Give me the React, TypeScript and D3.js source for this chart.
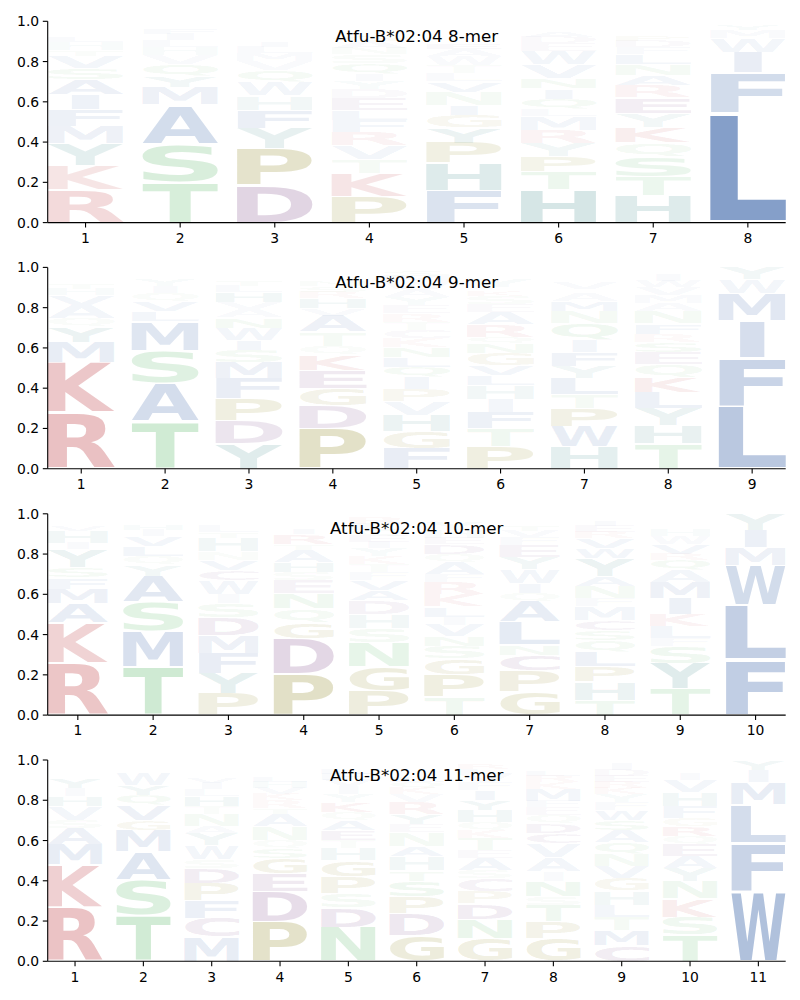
import React, { useMemo } from "react";
import * as d3 from "d3";

type Col = [string, number][];

const titles = ["Atfu-B*02:04 8-mer", "Atfu-B*02:04 9-mer", "Atfu-B*02:04 10-mer", "Atfu-B*02:04 11-mer"];

// letter probabilities per position, bottom (largest) to top
const mer8: Col[] = [
  [["R", .165], ["K", .12], ["Y", .11], ["M", .085], ["F", .08], ["I", .075], ["A", .075], ["S", .055], ["V", .06], ["T", .03], ["H", .04], ["L", .025], ["W", .02], ["N", .015], ["Q", .015], ["E", .01], ["D", .01], ["G", .005], ["P", .005]],
  [["T", .2], ["S", .19], ["A", .195], ["M", .085], ["Y", .055], ["Q", .06], ["V", .045], ["H", .04], ["L", .035], ["I", .03], ["F", .025], ["N", .02], ["K", .015], ["E", .005]],
  [["D", .185], ["P", .185], ["Y", .10], ["F", .09], ["H", .07], ["W", .07], ["Q", .055], ["V", .045], ["M", .04], ["L", .03], ["I", .025], ["A", .02], ["S", .02], ["T", .015], ["N", .015], ["E", .01], ["G", .01], ["K", .01], ["R", .005]],
  [["P", .13], ["K", .115], ["T", .07], ["V", .07], ["R", .065], ["F", .06], ["L", .05], ["E", .06], ["D", .045], ["Y", .04], ["I", .035], ["Q", .05], ["S", .045], ["N", .03], ["A", .035], ["G", .03], ["W", .02], ["H", .02], ["M", .02], ["C", .01]],
  [["F", .16], ["H", .135], ["P", .10], ["Y", .075], ["G", .065], ["I", .05], ["N", .065], ["V", .05], ["L", .04], ["T", .04], ["W", .045], ["A", .035], ["E", .025], ["Q", .02], ["S", .02], ["K", .02], ["D", .015], ["R", .015], ["M", .015], ["C", .01]],
  [["H", .165], ["T", .09], ["P", .075], ["Y", .065], ["R", .065], ["M", .07], ["L", .035], ["Q", .05], ["I", .05], ["N", .05], ["V", .07], ["W", .065], ["E", .04], ["D", .03], ["A", .025], ["S", .02], ["F", .015], ["G", .01], ["K", .01]],
  [["H", .135], ["T", .095], ["S", .10], ["Q", .07], ["K", .075], ["Y", .07], ["E", .075], ["R", .06], ["A", .05], ["N", .055], ["L", .05], ["F", .035], ["D", .03], ["P", .025], ["I", .02], ["V", .02], ["G", .015], ["W", .01], ["M", .01]],
  [["L", .545], ["F", .20], ["I", .10], ["W", .07], ["M", .04], ["Y", .025], ["V", .02]],
];

const mer9: Col[] = [
  [["R", .28], ["K", .25], ["M", .10], ["Y", .075], ["Q", .04], ["A", .065], ["V", .05], ["H", .03], ["T", .025], ["S", .02], ["F", .02], ["I", .015], ["L", .01], ["N", .01], ["E", .005], ["W", .005]],
  [["T", .235], ["A", .19], ["S", .16], ["M", .145], ["L", .05], ["V", .05], ["Q", .04], ["I", .035], ["Y", .03], ["H", .02], ["F", .015], ["N", .01], ["G", .01], ["K", .01]],
  [["Y", .125], ["D", .115], ["P", .11], ["F", .10], ["M", .08], ["S", .06], ["I", .05], ["W", .06], ["N", .05], ["A", .04], ["V", .035], ["H", .05], ["L", .03], ["T", .025], ["Q", .02], ["E", .015], ["G", .015], ["R", .01], ["K", .01]],
  [["P", .20], ["D", .115], ["G", .085], ["E", .09], ["K", .075], ["Q", .045], ["T", .07], ["A", .08], ["V", .035], ["H", .05], ["R", .03], ["S", .03], ["N", .025], ["I", .02], ["L", .015], ["Y", .01], ["F", .01], ["M", .01], ["W", .005]],
  [["F", .10], ["G", .085], ["H", .08], ["V", .07], ["P", .06], ["I", .06], ["Q", .05], ["L", .05], ["N", .05], ["K", .045], ["C", .04], ["T", .04], ["R", .04], ["E", .04], ["Y", .04], ["A", .04], ["W", .035], ["M", .03], ["S", .025], ["D", .02]],
  [["P", .11], ["T", .09], ["F", .08], ["I", .065], ["H", .07], ["L", .05], ["V", .05], ["G", .06], ["N", .05], ["Q", .03], ["R", .06], ["A", .06], ["E", .04], ["S", .04], ["K", .025], ["D", .02], ["Y", .04], ["M", .015], ["W", .01], ["C", .005]],
  [["H", .11], ["W", .10], ["P", .09], ["T", .07], ["L", .08], ["Y", .06], ["F", .07], ["I", .06], ["Q", .08], ["N", .06], ["M", .05], ["A", .04], ["R", .02], ["V", .03], ["E", .02], ["S", .02], ["G", .015], ["D", .01], ["K", .01], ["C", .005]],
  [["T", .125], ["H", .09], ["Y", .085], ["L", .08], ["K", .075], ["Q", .065], ["E", .06], ["S", .05], ["R", .04], ["F", .05], ["N", .06], ["A", .04], ["M", .04], ["V", .04], ["W", .03], ["I", .03], ["D", .015], ["G", .01], ["P", .01], ["C", .005]],
  [["L", .31], ["F", .24], ["I", .185], ["M", .135], ["W", .07], ["Y", .06]],
];

const mer10: Col[] = [
  [["R", .257], ["K", .20], ["A", .097], ["M", .072], ["F", .057], ["S", .05], ["Y", .09], ["I", .03], ["H", .06], ["V", .025], ["T", .02], ["L", .015], ["Q", .01], ["N", .008], ["E", .005], ["W", .004]],
  [["T", .24], ["M", .175], ["S", .145], ["A", .13], ["Y", .055], ["Q", .045], ["L", .05], ["V", .05], ["I", .03], ["H", .025], ["F", .02], ["N", .015], ["G", .01], ["K", .01]],
  [["P", .108], ["Y", .10], ["F", .10], ["M", .09], ["D", .088], ["S", .07], ["I", .045], ["W", .07], ["C", .05], ["V", .05], ["N", .04], ["H", .07], ["T", .03], ["L", .03], ["A", .02], ["Q", .015], ["E", .01], ["K", .008], ["G", .006]],
  [["P", .204], ["D", .176], ["G", .08], ["Q", .07], ["N", .075], ["E", .065], ["S", .04], ["H", .05], ["A", .06], ["T", .03], ["R", .05], ["I", .025], ["K", .02], ["V", .015], ["L", .015], ["F", .01], ["Y", .01], ["M", .005]],
  [["P", .12], ["G", .12], ["N", .12], ["S", .07], ["H", .07], ["D", .07], ["A", .05], ["V", .05], ["F", .04], ["T", .04], ["K", .04], ["Y", .04], ["I", .03], ["E", .03], ["Q", .03], ["L", .03], ["R", .03], ["W", .02]],
  [["T", .09], ["P", .11], ["G", .08], ["S", .06], ["N", .05], ["V", .058], ["I", .04], ["L", .05], ["K", .06], ["R", .06], ["F", .04], ["A", .06], ["Q", .04], ["D", .05], ["E", .03], ["H", .04], ["Y", .04], ["M", .02], ["W", .015], ["C", .007]],
  [["G", .116], ["P", .104], ["C", .078], ["N", .05], ["L", .116], ["A", .10], ["Q", .04], ["I", .05], ["W", .07], ["Y", .06], ["E", .06], ["F", .04], ["V", .03], ["T", .025], ["S", .02], ["H", .015], ["M", .01], ["K", .008], ["R", .005], ["D", .003]],
  [["T", .075], ["H", .09], ["P", .075], ["L", .075], ["Q", .055], ["S", .05], ["C", .05], ["M", .07], ["F", .04], ["N", .06], ["A", .05], ["Y", .09], ["W", .05], ["V", .05], ["R", .03], ["E", .03], ["I", .025], ["K", .015], ["G", .01], ["D", .01]],
  [["T", .13], ["Y", .127], ["S", .083], ["F", .04], ["L", .06], ["K", .06], ["I", .08], ["M", .08], ["A", .06], ["Q", .05], ["R", .03], ["V", .05], ["W", .04], ["H", .03], ["E", .02], ["N", .02], ["G", .015], ["D", .01], ["P", .01], ["C", .005]],
  [["F", .275], ["L", .27], ["W", .20], ["M", .09], ["I", .085], ["Y", .08]],
];

const mer11: Col[] = [
  [["R", .27], ["K", .21], ["M", .10], ["A", .08], ["S", .04], ["V", .07], ["H", .05], ["I", .04], ["Y", .05], ["T", .02], ["F", .02], ["Q", .015], ["L", .01], ["N", .01], ["E", .008], ["W", .007]],
  [["T", .23], ["S", .175], ["A", .14], ["M", .105], ["G", .05], ["V", .075], ["Q", .05], ["Y", .05], ["W", .06], ["L", .02], ["I", .015], ["H", .01], ["F", .01], ["N", .01]],
  [["M", .12], ["C", .095], ["F", .085], ["P", .086], ["D", .074], ["S", .045], ["W", .07], ["Y", .06], ["A", .035], ["N", .06], ["T", .04], ["H", .05], ["L", .035], ["I", .03], ["V", .025], ["Q", .02], ["E", .015], ["G", .02], ["K", .02], ["R", .015]],
  [["P", .196], ["D", .149], ["E", .09], ["G", .075], ["S", .05], ["Q", .04], ["N", .07], ["A", .06], ["T", .03], ["R", .04], ["K", .03], ["V", .03], ["H", .03], ["L", .025], ["I", .02], ["Y", .02], ["F", .015], ["M", .015], ["W", .01], ["C", .005]],
  [["N", .17], ["D", .097], ["S", .07], ["P", .083], ["G", .08], ["H", .06], ["T", .04], ["E", .05], ["A", .05], ["Q", .04], ["K", .05], ["Y", .04], ["I", .04], ["V", .03], ["F", .03], ["L", .025], ["R", .02], ["M", .015], ["W", .01]],
  [["G", .13], ["D", .107], ["P", .083], ["S", .08], ["T", .05], ["H", .07], ["A", .05], ["N", .07], ["E", .04], ["Y", .05], ["R", .06], ["V", .04], ["K", .03], ["Q", .03], ["L", .025], ["I", .02], ["F", .02], ["M", .015], ["W", .01], ["C", .02]],
  [["G", .113], ["N", .097], ["D", .077], ["P", .058], ["C", .065], ["S", .04], ["A", .06], ["E", .04], ["T", .06], ["K", .04], ["Q", .04], ["H", .06], ["Y", .05], ["I", .05], ["F", .04], ["V", .04], ["L", .025], ["R", .025], ["M", .015], ["W", .01]],
  [["G", .113], ["P", .083], ["T", .084], ["S", .045], ["N", .075], ["I", .045], ["A", .07], ["V", .07], ["C", .05], ["D", .05], ["Q", .04], ["E", .04], ["F", .03], ["M", .06], ["K", .035], ["R", .03], ["L", .025], ["Y", .02], ["H", .015], ["W", .02]],
  [["C", .08], ["M", .074], ["T", .066], ["L", .06], ["H", .07], ["G", .06], ["V", .06], ["N", .06], ["Q", .06], ["A", .06], ["S", .05], ["W", .05], ["F", .04], ["Y", .04], ["K", .03], ["R", .03], ["E", .03], ["D", .03], ["I", .03], ["P", .02]],
  [["T", .13], ["S", .09], ["K", .09], ["N", .085], ["Y", .065], ["A", .06], ["E", .06], ["Q", .04], ["R", .05], ["G", .04], ["F", .06], ["H", .07], ["V", .06], ["I", .03], ["L", .02], ["D", .02], ["M", .015], ["W", .01], ["P", .005]],
  [["W", .35], ["F", .24], ["L", .19], ["M", .11], ["I", .06], ["Y", .05]],
];

const panels = [mer8, mer9, mer10, mer11];
const yTicks = [0, 0.2, 0.4, 0.6, 0.8, 1.0];

const groups: [string, string][] = [
  ["AVLIMFW", "#4C72B0"],
  ["KR", "#C44E52"],
  ["STNQ", "#5fba6c"],
  ["DEC", "#7e4987"],
  ["PG", "#8f8723"],
  ["HY", "#3c8787"],
];
const colorOf = (c: string) => (groups.find((g) => g[0].includes(c)) || ["", "#888"])[1];

const FONT = "DejaVu Sans";
const FS = 100;
const AX_L = 47.7;
const AX_R = 785.7;
const AX_H = 201.3;
const TOPS = [21.3, 267.4, 513.8, 760.0];
const VPAD = 0.05;

type Metric = { left: number; w: number; ascent: number; h: number };

function useMetrics() {
  return useMemo(() => {
    const cv = document.createElement("canvas");
    const ctx = cv.getContext("2d")!;
    ctx.font = `bold ${FS}px "${FONT}"`;
    const m: Record<string, Metric> = {};
    for (const c of "ACDEFGHIKLMNPQRSTVWY") {
      const t = ctx.measureText(c);
      m[c] = {
        left: t.actualBoundingBoxLeft,
        w: t.actualBoundingBoxLeft + t.actualBoundingBoxRight,
        ascent: t.actualBoundingBoxAscent,
        h: t.actualBoundingBoxAscent + t.actualBoundingBoxDescent,
      };
    }
    return m;
  }, []);
}

function Panel({ data, top, title, metrics }: { data: Col[]; top: number; title: string; metrics: Record<string, Metric> }) {
  const n = data.length;
  const x = d3.scaleLinear().domain([0.6, n + 0.4]).range([AX_L, AX_R]);
  const y = d3.scaleLinear().domain([0, 1]).range([top + AX_H, top]);
  const fmt = d3.format(".1f");
  const glyphs: React.ReactNode[] = [];
  data.forEach((col, i) => {
    const pos = i + 1;
    const bx = x(pos - 0.4);
    const bw = x(pos + 0.4) - bx;
    let floor = 0;
    col.forEach(([c, p], j) => {
      const m = metrics[c];
      const e = metrics["E"];
      const hs = Math.min(bw / m.w, bw / e.w);
      const charW = hs * m.w;
      const shift = (bw - charW) / 2;
      const gTop = y(floor + p - (p * VPAD) / 2);
      const gBot = y(floor + (p * VPAD) / 2);
      const sy = (gBot - gTop) / m.h;
      floor += p;
      if (gBot - gTop <= 0) return;
      glyphs.push(
        <text
          key={`${i}-${j}`}
          transform={`translate(${bx + shift},${gTop}) scale(${hs},${sy}) translate(${m.left},${m.ascent})`}
          fontFamily={FONT}
          fontWeight="bold"
          fontSize={FS}
          fill={colorOf(c)}
          fillOpacity={Math.min(1, 1.25 * p)}
        >
          {c}
        </text>
      );
    });
  });
  const bottom = top + AX_H;
  return (
    <g>
      {glyphs}
      <text x={(AX_L + AX_R) / 2} y={top + 20.5} textAnchor="middle" fontFamily={FONT} fontSize={16.7} fill="#000">
        {title}
      </text>
      <line x1={AX_L} x2={AX_L} y1={top} y2={bottom} stroke="#000" strokeWidth={1.1} />
      <line x1={AX_L} x2={AX_R} y1={bottom} y2={bottom} stroke="#000" strokeWidth={1.1} />
      {yTicks.map((t) => (
        <g key={`y${t}`}>
          <line x1={AX_L - 4.9} x2={AX_L} y1={y(t)} y2={y(t)} stroke="#000" strokeWidth={1.1} />
          <text x={AX_L - 8.5} y={y(t)} dy="0.36em" textAnchor="end" fontFamily={FONT} fontSize={13.9} fill="#000">
            {fmt(t)}
          </text>
        </g>
      ))}
      {d3.range(1, n + 1).map((t) => (
        <g key={`x${t}`}>
          <line x1={x(t)} x2={x(t)} y1={bottom} y2={bottom + 4.9} stroke="#000" strokeWidth={1.1} />
          <text x={x(t)} y={bottom + 9.8} dy="0.76em" textAnchor="middle" fontFamily={FONT} fontSize={13.9} fill="#000">
            {t}
          </text>
        </g>
      ))}
    </g>
  );
}

export default function App() {
  const metrics = useMetrics();
  return (
    <svg
      width={800}
      height={1000}
      style={{ position: "absolute", left: 0, top: 0, display: "block", background: "#fff" }}
    >
      {panels.map((d, k) => (
        <Panel key={k} data={d} top={TOPS[k]} title={titles[k]} metrics={metrics} />
      ))}
    </svg>
  );
}
